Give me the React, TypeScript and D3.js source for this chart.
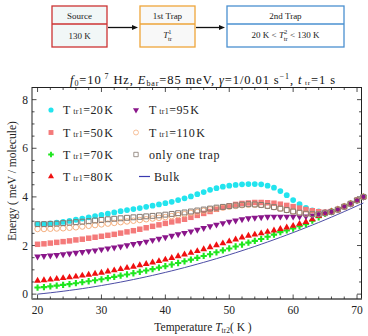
import React from "react";
import * as d3 from "d3";

const temps = [20,21,22,23,24,25,26,27,28,29,30,31,32,33,34,35,36,37,38,39,40,41,42,43,44,45,46,47,48,49,50,51,52,53,54,55,56,57,58,59,60,61,62,63,64,65,66,67,68,69,70,71];

const t20 = [2.88,2.89,2.91,2.94,2.97,3.01,3.06,3.11,3.16,3.21,3.26,3.31,3.36,3.41,3.46,3.50,3.54,3.59,3.64,3.69,3.74,3.80,3.87,3.94,4.02,4.11,4.20,4.29,4.36,4.42,4.46,4.49,4.52,4.53,4.53,4.52,4.46,4.38,4.24,4.07,3.87,3.70,3.55,3.45,3.40,3.37,3.40,3.48,3.60,3.72,3.86,4.00];
const t50 = [2.05,2.07,2.10,2.13,2.16,2.19,2.23,2.26,2.30,2.34,2.38,2.42,2.46,2.51,2.56,2.61,2.67,2.73,2.79,2.85,2.91,2.97,3.02,3.08,3.16,3.24,3.32,3.40,3.49,3.57,3.63,3.69,3.73,3.75,3.77,3.77,3.76,3.74,3.70,3.65,3.60,3.54,3.48,3.43,3.39,3.37,3.40,3.48,3.60,3.72,3.86,4.00];
const t70 = [0.27,0.29,0.32,0.35,0.38,0.41,0.45,0.49,0.53,0.57,0.61,0.66,0.71,0.76,0.81,0.86,0.92,0.97,1.03,1.09,1.15,1.22,1.28,1.35,1.42,1.49,1.57,1.64,1.72,1.80,1.88,1.96,2.04,2.12,2.19,2.27,2.36,2.45,2.55,2.62,2.70,2.79,2.88,3.02,3.16,3.30,3.40,3.48,3.60,3.72,3.86,4.00];
const t80 = [0.55,0.57,0.60,0.63,0.66,0.69,0.72,0.76,0.80,0.84,0.88,0.93,0.98,1.03,1.08,1.13,1.19,1.24,1.30,1.36,1.42,1.49,1.56,1.63,1.70,1.77,1.85,1.93,2.01,2.09,2.17,2.25,2.33,2.40,2.45,2.50,2.56,2.62,2.68,2.74,2.81,2.89,2.97,3.08,3.21,3.34,3.40,3.48,3.60,3.72,3.86,4.00];
const t95 = [1.55,1.57,1.59,1.61,1.64,1.67,1.70,1.73,1.77,1.80,1.84,1.88,1.92,1.96,2.01,2.06,2.11,2.16,2.22,2.28,2.34,2.40,2.46,2.52,2.58,2.65,2.72,2.79,2.86,2.92,2.98,3.03,3.08,3.12,3.14,3.16,3.18,3.19,3.19,3.19,3.19,3.19,3.20,3.23,3.29,3.35,3.40,3.48,3.60,3.72,3.86,4.00];
const t110 = [2.68,2.68,2.69,2.70,2.71,2.73,2.75,2.78,2.81,2.84,2.87,2.90,2.93,2.96,2.99,3.02,3.05,3.08,3.11,3.14,3.17,3.21,3.25,3.29,3.34,3.38,3.43,3.48,3.52,3.56,3.60,3.63,3.66,3.68,3.68,3.67,3.63,3.58,3.52,3.46,3.40,3.35,3.31,3.29,3.29,3.33,3.38,3.48,3.60,3.72,3.86,4.00];
const oneTrap = [2.88,2.88,2.89,2.90,2.92,2.94,2.96,2.98,3.00,3.03,3.05,3.08,3.10,3.12,3.14,3.16,3.18,3.20,3.22,3.24,3.27,3.30,3.33,3.36,3.40,3.44,3.48,3.52,3.56,3.59,3.62,3.65,3.68,3.70,3.69,3.67,3.63,3.58,3.52,3.46,3.40,3.35,3.31,3.29,3.29,3.33,3.38,3.48,3.60,3.72,3.86,4.00];
const bulk = [0.00,0.027,0.056,0.087,0.119,0.154,0.190,0.228,0.268,0.310,0.354,0.400,0.447,0.496,0.548,0.601,0.656,0.713,0.771,0.832,0.894,0.958,1.024,1.092,1.162,1.234,1.307,1.383,1.460,1.539,1.620,1.703,1.787,1.874,1.962,2.053,2.145,2.239,2.335,2.433,2.532,2.633,2.737,2.842,2.948,3.058,3.168,3.281,3.396,3.512,3.630,3.750];

const xTicks = [20,30,40,50,60,70];
const yTicks = [0,2,4,6,8];

const W = 368, H = 336;
const L = 32, R = 361.5, T = 87.5, B = 299;
const x = d3.scaleLinear().domain([19.13, 70.7]).range([L, R]);
const y = d3.scaleLinear().domain([-0.2, 8.5]).range([B, T]);

const serif = "'Liberation Serif', 'DejaVu Serif', serif";

type S = { name: string; data: number[]; type: d3.SymbolType; size: number; fill: string; stroke: string; rot?: number; legend: [number, number]; lbl: string };

const series: S[] = [
  { name: "c", data: t20, type: d3.symbolCircle, size: 26, fill: "#22e4ee", stroke: "none", legend: [0, 0], lbl: "20" },
  { name: "s", data: t50, type: d3.symbolSquare, size: 30, fill: "#f47a7a", stroke: "none", legend: [0, 1], lbl: "50" },
  { name: "g", data: t70, type: d3.symbolCross, size: 22, fill: "#1ee61e", stroke: "none", legend: [0, 2], lbl: "70" },
  { name: "r", data: t80, type: d3.symbolTriangle, size: 20, fill: "#f01010", stroke: "none", legend: [0, 3], lbl: "80" },
  { name: "p", data: t95, type: d3.symbolTriangle, size: 20, fill: "#8a168a", stroke: "none", rot: 180, legend: [1, 0], lbl: "95" },
  { name: "o", data: t110, type: d3.symbolCircle, size: 24, fill: "none", stroke: "#f5b080", legend: [1, 1], lbl: "110" },
  { name: "k", data: oneTrap, type: d3.symbolSquare, size: 24, fill: "none", stroke: "#857870", legend: [1, 2], lbl: "" },
];

const legX = [51, 136];
const legTX = [63, 149];
const legY = [110, 132.5, 154.5, 176.5];

export default function App() {
  const line = d3.line<number>().x((_, i) => x(temps[i])).y((v) => y(v)).curve(d3.curveMonotoneX);
  const minorX = d3.range(20, 72, 2).filter((v) => v % 10 !== 0);
  const minorY = d3.range(0, 8.6, 0.5).filter((v) => v % 2 !== 0);
  return (
    <svg width={W} height={H} style={{ position: "absolute", left: 0, top: 0, background: "#fff" }} fontFamily={serif}>
      {/* top diagram */}
      <g fontSize={9} textAnchor="middle" fill="#222">
        <rect x={52} y={6} width={55} height={41} fill="#f1f7f7" stroke="#cc3333" strokeWidth={1.3} />
        <line x1={52} x2={107} y1={24} y2={24} stroke="#cc3333" strokeWidth={1.3} />
        <text x={79.5} y={19}>Source</text>
        <text x={79.5} y={38.5}>130 K</text>
        <rect x={140} y={6} width={55} height={41} fill="#f8f8f8" stroke="#eea53a" strokeWidth={1.3} />
        <line x1={140} x2={195} y1={24} y2={24} stroke="#eea53a" strokeWidth={1.3} />
        <text x={167.5} y={19}>1st Trap</text>
        <text x={167.5} y={38}><tspan fontStyle="italic">T</tspan><tspan fontSize={6.5} dy={-4}>1</tspan><tspan fontSize={6.5} dx={-3.5} dy={7}>tr</tspan></text>
        <rect x={227} y={6} width={117} height={41} fill="#fff" stroke="#4a90d0" strokeWidth={1.3} />
        <line x1={227} x2={344} y1={24} y2={24} stroke="#4a90d0" strokeWidth={1.3} />
        <text x={285.5} y={19}>2nd Trap</text>
        <text x={285.5} y={38}>20 K &lt; <tspan fontStyle="italic">T</tspan><tspan fontSize={6.5} dy={-4}>2</tspan><tspan fontSize={6.5} dx={-3.5} dy={7}>tr</tspan><tspan dy={-3}> &lt; 130 K</tspan></text>
        <line x1={108} x2={134} y1={27.5} y2={27.5} stroke="#111" strokeWidth={1.3} />
        <path d="M138,27.5 L132,25 L132,30 Z" fill="#111" />
        <line x1={196} x2={221} y1={27.5} y2={27.5} stroke="#111" strokeWidth={1.3} />
        <path d="M225,27.5 L219,25 L219,30 Z" fill="#111" />
      </g>
      {/* title */}
      <text x={203} y={84} fontSize={12.5} textAnchor="middle" fill="#111" letterSpacing={0.9}>
        <tspan fontStyle="italic">f</tspan><tspan fontSize={8} dy={2}>0</tspan><tspan dy={-2}>=10</tspan><tspan fontSize={8} dy={-5}> 7</tspan><tspan dy={5}>  Hz, </tspan><tspan fontStyle="italic">E</tspan><tspan fontSize={8} dy={2}>bar</tspan><tspan dy={-2}>=85  meV, </tspan><tspan fontStyle="italic">γ</tspan><tspan>=1/0.01  s</tspan><tspan fontSize={8} dy={-5}>−1</tspan><tspan dy={5}>, </tspan><tspan fontStyle="italic">t</tspan><tspan fontSize={7} dy={1}> tr</tspan><tspan dy={-1}>=1  s</tspan>
      </text>
      {/* frame */}
      <rect x={L} y={T} width={R - L} height={B - T} fill="none" stroke="#222" strokeWidth={1} />
      <line x1={L} x2={R} y1={B} y2={B} stroke="#777" strokeWidth={2} />
      {/* ticks */}
      <g stroke="#222" strokeWidth={0.8}>
        {xTicks.map((v) => (
          <g key={"xt" + v}>
            <line x1={x(v)} x2={x(v)} y1={B} y2={B - 4.5} />
            <line x1={x(v)} x2={x(v)} y1={T} y2={T + 4.5} />
          </g>
        ))}
        {minorX.map((v) => (
          <g key={"xm" + v}>
            <line x1={x(v)} x2={x(v)} y1={B} y2={B - 2.5} />
            <line x1={x(v)} x2={x(v)} y1={T} y2={T + 2.5} />
          </g>
        ))}
        {yTicks.map((v) => (
          <g key={"yt" + v}>
            <line x1={L} x2={L + 4.5} y1={y(v)} y2={y(v)} />
            <line x1={R} x2={R - 4.5} y1={y(v)} y2={y(v)} />
          </g>
        ))}
        {minorY.map((v) => (
          <g key={"ym" + v}>
            <line x1={L} x2={L + 2.5} y1={y(v)} y2={y(v)} />
            <line x1={R} x2={R - 2.5} y1={y(v)} y2={y(v)} />
          </g>
        ))}
      </g>
      <g fontSize={11.5} fill="#222">
        {xTicks.map((v) => (
          <text key={"xl" + v} x={x(v)} y={314} textAnchor="middle">{v}</text>
        ))}
        {yTicks.map((v) => (
          <text key={"yl" + v} x={28} y={y(v) + 4} textAnchor="end">{v}</text>
        ))}
      </g>
      <text x={203} y={331} fontSize={11.5} textAnchor="middle" fill="#222">
        Temperature <tspan fontStyle="italic">T</tspan><tspan fontSize={7.5} dy={2}>tr2</tspan><tspan dy={-2}>( K )</tspan>
      </text>
      <text transform="translate(16,181) rotate(-90)" fontSize={11.5} textAnchor="middle" fill="#222">Energy ( meV / molecule)</text>
      {/* bulk */}
      <path d={line(bulk) || ""} fill="none" stroke="#4d4da6" strokeWidth={1} />
      {/* points */}
      {series.map((s) => {
        const p = d3.symbol().type(s.type).size(s.size)() || "";
        return (
          <g key={s.name}>
            {s.data.map((v, i) => (
              <path key={i} d={p} transform={`translate(${x(temps[i])},${y(v)})${s.rot ? " rotate(" + s.rot + ")" : ""}`} fill={s.fill} stroke={s.stroke} strokeWidth={1} />
            ))}
          </g>
        );
      })}
      {/* legend */}
      <g fontSize={12} fill="#222">
        {series.map((s) => {
          const p = d3.symbol().type(s.type).size(s.size * 0.8)() || "";
          const [c, r] = s.legend;
          return (
            <g key={"lg" + s.name}>
              <path d={p} transform={`translate(${legX[c]},${legY[r]})${s.rot ? " rotate(180)" : ""}`} fill={s.fill} stroke={s.stroke} strokeWidth={0.8} />
              {s.lbl ? (
                <text x={legTX[c]} y={legY[r] + 4} letterSpacing={0.4}>T<tspan fontSize={8}> tr1</tspan><tspan>=</tspan>{s.lbl}<tspan dx={1}>K</tspan></text>
              ) : (
                <text x={legTX[c]} y={legY[r] + 4} letterSpacing={0.6}>only  one  trap</text>
              )}
            </g>
          );
        })}
        <line x1={139} x2={150} y1={legY[3]} y2={legY[3]} stroke="#3a3ab0" strokeWidth={1.2} />
        <text x={154} y={legY[3] + 4} letterSpacing={0.6}>Bulk</text>
      </g>
    </svg>
  );
}
